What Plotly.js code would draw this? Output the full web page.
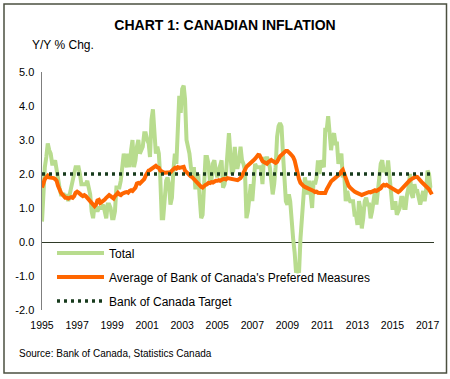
<!DOCTYPE html>
<html>
<head>
<meta charset="utf-8">
<script src="https://cdn.plot.ly/plotly-3.0.1.min.js"></script>
<style>html,body{margin:0;padding:0;background:#fff;}#chart{width:450px;height:379px;}</style>
</head>
<body>
<div id="chart"></div>
<script>
// Monthly data, Jan 1995 onward
var startYear = 1995;
var totalCPI = [
  0.6, 1.8, 2.2, 2.5, 2.9, 2.7, 2.6, 2.3, 2.3, 2.4, 2.1, 1.7,
  1.6, 1.4, 1.4, 1.4, 1.3, 1.4, 1.2, 1.4, 1.5, 1.8, 2.0, 2.2,
  2.2, 2.2, 2.0, 1.7, 1.7, 1.7, 1.7, 1.8, 1.6, 1.4, 0.9, 0.7,
  1.1, 1.0, 0.9, 1.0, 1.0, 1.0, 1.1, 0.8, 0.7, 1.1, 1.1, 1.0,
  0.7, 0.7, 0.9, 1.6, 1.6, 1.6, 1.8, 2.1, 2.6, 2.4, 2.2, 2.6,
  2.2, 2.7, 3.0, 2.2, 2.4, 2.8, 3.0, 2.6, 2.7, 2.8, 3.2, 3.2,
  3.0, 2.9, 2.5, 3.6, 3.9, 3.3, 2.6, 2.8, 2.6, 1.9, 0.7, 0.7,
  1.3, 1.8, 1.9, 1.7, 1.1, 1.3, 2.1, 2.6, 2.3, 3.2, 4.3, 3.8,
  4.5, 4.6, 4.2, 3.0, 2.8, 2.6, 2.2, 2.0, 2.2, 1.6, 1.6, 2.0,
  1.3, 0.7, 0.8, 1.7, 2.5, 2.5, 2.3, 1.8, 1.8, 2.3, 2.4, 2.1,
  1.9, 2.1, 2.3, 2.4, 1.6, 1.7, 2.0, 2.6, 3.2, 2.6, 2.0, 2.1,
  2.8, 2.2, 2.2, 2.4, 2.8, 2.4, 2.3, 2.1, 0.7, 0.9, 1.4, 1.7,
  1.2, 2.0, 2.3, 2.2, 2.2, 2.2, 2.2, 1.7, 2.5, 2.4, 2.5, 2.4,
  2.2, 1.8, 1.4, 1.7, 2.2, 3.1, 3.4, 3.5, 3.4, 2.6, 2.0, 1.2,
  1.1, 1.4, 1.2, 0.4, 0.1, -0.3, -0.9, -0.8, -0.9, 0.1, 1.0, 1.3,
  1.9, 1.6, 1.4, 1.8, 1.4, 1.0, 1.8, 1.7, 1.9, 2.4, 2.0, 2.4,
  2.3, 2.2, 3.3, 3.3, 3.7, 3.1, 2.7, 3.1, 3.2, 2.9, 2.9, 2.3,
  2.5, 2.6, 1.9, 2.0, 1.2, 1.5, 1.3, 1.2, 1.2, 1.2, 0.8, 0.8,
  0.5, 1.2, 1.0, 0.4, 0.7, 1.2, 1.3, 1.1, 1.1, 0.7, 0.9, 1.2,
  1.5, 1.1, 1.5, 2.0, 2.3, 2.4, 2.1, 2.1, 2.0, 2.4, 2.0, 1.5,
  1.0, 1.0, 1.2, 0.8, 0.9, 1.0, 1.3, 1.3, 1.0, 1.0, 1.4, 1.6,
  2.0, 1.4, 1.3, 1.7, 1.5, 1.5, 1.3, 1.1, 1.3, 1.5, 1.2, 1.5,
  2.1, 2.0, 1.6, 1.6
];
var preferredAvg = [
  1.6, 1.75, 1.85, 1.9, 1.95, 1.9, 1.9, 1.9, 1.88, 1.85, 1.8, 1.65,
  1.5, 1.45, 1.4, 1.35, 1.3, 1.3, 1.28, 1.3, 1.32, 1.3, 1.35, 1.45,
  1.48, 1.45, 1.4, 1.38, 1.35, 1.38, 1.35, 1.3, 1.25, 1.2, 1.15, 1.12,
  1.05, 1.1, 1.22, 1.24, 1.15, 1.18, 1.2, 1.25, 1.3, 1.35, 1.38, 1.35,
  1.3, 1.28, 1.35, 1.42, 1.45, 1.4, 1.38, 1.42, 1.45, 1.46, 1.47, 1.45,
  1.5, 1.52, 1.5, 1.55, 1.6, 1.72, 1.74, 1.72, 1.76, 1.78, 1.85, 1.95,
  2.03, 2.1, 2.12, 2.15, 2.2, 2.22, 2.24, 2.2, 2.18, 2.1, 2.06, 2.05,
  2.04, 2.05, 2.03, 2.04, 2.05, 2.1, 2.15, 2.18, 2.16, 2.2, 2.18, 2.2,
  2.22, 2.21, 2.1, 2.05, 2.0, 1.97, 1.93, 1.9, 1.85, 1.8, 1.76, 1.72,
  1.68, 1.62, 1.6, 1.65, 1.68, 1.7, 1.74, 1.73, 1.76, 1.75, 1.78, 1.8,
  1.8, 1.82, 1.8, 1.84, 1.85, 1.86, 1.84, 1.88, 1.87, 1.88, 1.86, 1.85,
  1.84, 1.83, 1.82, 1.85, 1.88, 1.95, 2.05, 2.15, 2.21, 2.25, 2.3, 2.35,
  2.38, 2.41, 2.45, 2.5, 2.56, 2.55, 2.45, 2.38, 2.35, 2.32, 2.3, 2.35,
  2.4, 2.41, 2.38, 2.35, 2.33, 2.36, 2.45, 2.52, 2.56, 2.6, 2.65, 2.68,
  2.68, 2.65, 2.6, 2.55, 2.5, 2.4, 2.2, 2.03, 1.85, 1.74, 1.68, 1.65,
  1.62, 1.6, 1.6, 1.59, 1.55, 1.52, 1.5, 1.47, 1.48, 1.45, 1.46, 1.44,
  1.44, 1.45, 1.44, 1.55, 1.65, 1.74, 1.78, 1.82, 1.85, 1.88, 1.91, 1.95,
  2.0, 2.08, 2.12, 2.0, 1.85, 1.7, 1.65, 1.6, 1.55, 1.5, 1.48, 1.46,
  1.44, 1.42, 1.4, 1.38, 1.4, 1.42, 1.44, 1.46, 1.47, 1.46, 1.48, 1.5,
  1.52, 1.5, 1.53, 1.53, 1.58, 1.65, 1.68, 1.66, 1.68, 1.65, 1.62, 1.6,
  1.59, 1.55, 1.5, 1.48, 1.47, 1.5, 1.55, 1.6, 1.65, 1.68, 1.72, 1.78,
  1.82, 1.85, 1.88, 1.9, 1.92, 1.91, 1.85, 1.78, 1.76, 1.72, 1.68, 1.65,
  1.62, 1.55, 1.48, 1.4
];
var targetValue = 2.0;
var xTickYears = [1995, 1997, 1999, 2001, 2003, 2005, 2007, 2009, 2011, 2013, 2015, 2017];
var yTickVals = [-2, -1, 0, 1, 2, 3, 4, 5];
var yTickText = ['-2.0', '-1.0', '0.0', '1.0', '2.0', '3.0', '4.0', '5.0'];
var seriesNames = ['Total', "Average of Bank of Canada's Prefered Measures", 'Bank of Canada Target'];

function monthDate(i) {
  var y = startYear + Math.floor(i / 12);
  var m = (i % 12) + 1;
  return y + '-' + (m < 10 ? '0' + m : m) + '-01';
}
var dates = totalCPI.map(function (_, i) { return monthDate(i); });
var targetArr = dates.map(function () { return targetValue; });

var font = 'Liberation Sans, Arial, sans-serif';

var traces = [
  {x: dates, y: totalCPI, name: seriesNames[0], type: 'scatter', mode: 'lines',
   line: {color: '#b8dc8e', width: 4}, legendgroup: 'a'},
  {x: dates, y: preferredAvg, name: seriesNames[1], type: 'scatter', mode: 'lines',
   line: {color: '#ff6600', width: 4}, legendgroup: 'b'},
  {x: dates, y: targetArr, name: seriesNames[2], type: 'scatter', mode: 'lines',
   line: {color: '#173a1c', width: 3.5, dash: '3px,4px'}, legendgroup: 'c'}
];

var layout = {
  width: 450, height: 379,
  margin: {l: 42, r: 16, t: 72, b: 69},
  paper_bgcolor: '#ffffff', plot_bgcolor: '#ffffff',
  font: {family: font, color: '#000000', size: 11},
  title: {text: '<b>CHART 1: CANADIAN INFLATION</b>', font: {family: font, size: 14, color: '#000'},
          x: 0.5, xanchor: 'center', xref: 'container', y: 1 - 25 / 379, yanchor: 'middle', yref: 'container'},
  showlegend: true,
  legend: {x: 0.0255, y: 0.300, xanchor: 'left', yanchor: 'top', bgcolor: 'rgba(0,0,0,0)',
           font: {family: font, size: 12, color: '#000'}, tracegroupgap: 5, traceorder: 'grouped', itemwidth: 47},
  xaxis: {type: 'date', range: ['1995-01-01', '2017-05-15'], showgrid: false, zeroline: false, showline: false,
          tickvals: xTickYears.map(function (y) { return y + '-01-01'; }),
          ticktext: xTickYears.map(String), ticks: 'outside', ticklen: 5, tickcolor: 'rgba(0,0,0,0)',
          tickfont: {family: font, size: 10.5, color: '#000'}},
  yaxis: {range: [-2, 5], showgrid: false, zeroline: true, zerolinecolor: '#2f3a28', zerolinewidth: 1,
          showline: true, linecolor: '#7f7f7f', linewidth: 1.5, ticks: '', tickvals: yTickVals, ticktext: yTickText,
          tickfont: {family: font, size: 11, color: '#000'}, ticklabelstandoff: 4},
  annotations: [
    {text: 'Y/Y % Chg.', xref: 'paper', yref: 'paper', x: -0.0306, y: (310 - 45) / 238, xanchor: 'left', yanchor: 'middle',
     showarrow: false, font: {family: font, size: 12, color: '#000'}},
    {text: 'Source: Bank of Canada, Statistics Canada', xref: 'paper', yref: 'paper', x: -0.0638, y: (310 - 353) / 238,
     xanchor: 'left', yanchor: 'middle', showarrow: false, font: {family: font, size: 10, color: '#000'}}
  ],
  shapes: [
    {type: 'rect', xref: 'paper', yref: 'paper', x0: (4 - 42) / 392, x1: (446.5 - 42) / 392,
     y0: (310 - 373) / 238, y1: (310 - 4) / 238, line: {color: '#4b5040', width: 1.5}, fillcolor: 'rgba(0,0,0,0)'}
  ]
};

Plotly.newPlot('chart', traces, layout, {displayModeBar: false, staticPlot: true});
</script>
</body>
</html>
